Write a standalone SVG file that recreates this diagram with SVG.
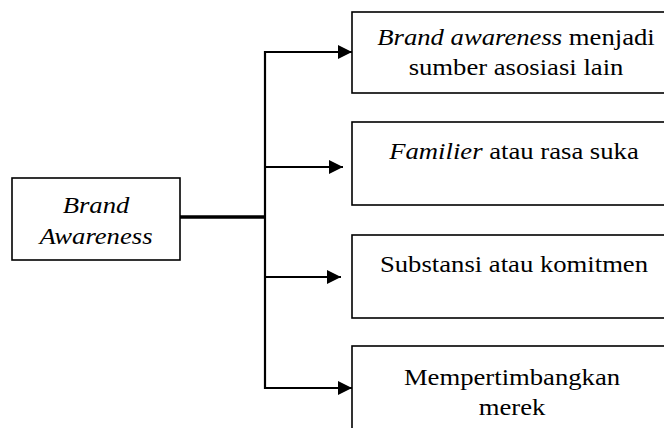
<svg xmlns="http://www.w3.org/2000/svg" width="664" height="428" viewBox="0 0 664 428">
<style>
.box{fill:#fff;stroke:#000;stroke-width:1.6}
text{font-family:'Liberation Serif','Times New Roman','DejaVu Serif',serif;font-size:23px;fill:#000;text-anchor:middle}
.i{font-style:italic}
.ln{fill:none;stroke:#000;stroke-width:2.2}
</style>
<defs>
<marker id="ah" viewBox="0 0 10 10" refX="10" refY="5" markerWidth="16" markerHeight="14" markerUnits="userSpaceOnUse" orient="auto">
<path d="M0,0 L10,5 L0,10 Z" fill="#000"/>
</marker>
</defs>
<g id="node-brand-awareness">
<rect class="box" x="12" y="178" width="168" height="82"/>
<text class="i" transform="translate(96,213) scale(1.16,1)">Brand</text>
<text class="i" transform="translate(96,244) scale(1.16,1)">Awareness</text>
</g>
<g id="node-sumber">
<rect class="box" x="352" y="12" width="323" height="81"/>
<text transform="translate(516,45) scale(1.16,1)"><tspan class="i">Brand awareness</tspan> menjadi</text>
<text transform="translate(516,75) scale(1.16,1)">sumber asosiasi lain</text>
</g>
<g id="node-familier">
<rect class="box" x="352" y="122" width="323" height="83"/>
<text transform="translate(514,159) scale(1.16,1)"><tspan class="i">Familier</tspan> atau rasa suka</text>
</g>
<g id="node-substansi">
<rect class="box" x="352" y="235" width="323" height="83"/>
<text transform="translate(514,272) scale(1.16,1)">Substansi atau komitmen</text>
</g>
<g id="node-mempertimbangkan">
<rect class="box" x="352" y="346" width="323" height="100"/>
<text transform="translate(512,385) scale(1.16,1)">Mempertimbangkan</text>
<text transform="translate(512,415) scale(1.16,1)">merek</text>
</g>
<g id="connectors">
<line x1="180" y1="217" x2="266" y2="217" stroke="#000" stroke-width="3.5"/>
<polyline class="ln" points="265,51 265,388 352,388" marker-end="url(#ah)"/>
<line class="ln" x1="264" y1="52" x2="352" y2="52" marker-end="url(#ah)"/>
<line class="ln" x1="265" y1="167" x2="343" y2="167" marker-end="url(#ah)"/>
<line class="ln" x1="265" y1="277" x2="341" y2="277" marker-end="url(#ah)"/>
</g>
</svg>
